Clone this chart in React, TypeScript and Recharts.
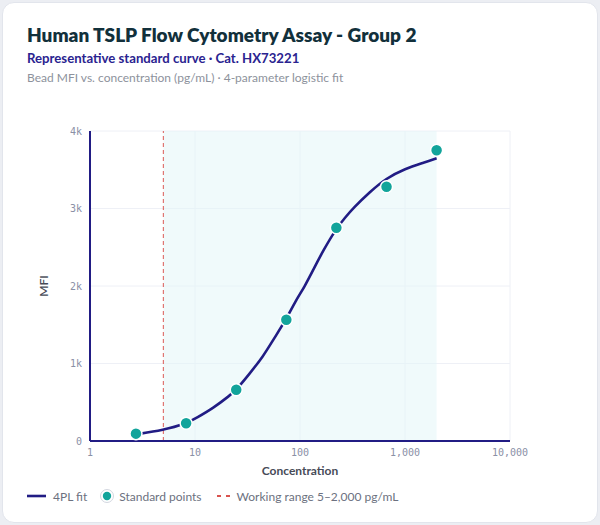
import React from 'react';
import {
  ComposedChart,
  Line,
  Scatter,
  XAxis,
  YAxis,
  CartesianGrid,
  ReferenceArea,
  ReferenceLine,
} from 'recharts';

// Standard points (3-fold dilutions)
const standardConc = [2.74, 8.23, 24.7, 74.1, 222, 667, 2000];
const standardMfi = [95, 228, 661, 1565, 2752, 3280, 3752];

// 4PL fit curve
const fitConc = [2.74, 5, 8.2, 10.4, 14.9, 21.5, 24.7, 33, 44.7, 55.7, 73.3, 90, 111, 135, 165, 220, 268, 322, 464, 659, 1000, 1540, 2000];
const fitMfi = [86, 141, 222, 301, 425, 588, 660, 866, 1093, 1308, 1561, 1800, 1994, 2220, 2450, 2735, 2880, 3006, 3215, 3388, 3515, 3595, 3648];

const xTicks = [1, 10, 100, 1000, 10000];
const yTicks = [0, 1000, 2000, 3000, 4000];
const workingRange = [5, 2000];

const standardData = standardConc.map((x, i) => ({ x, mfi: standardMfi[i] }));
const fitData = fitConc.map((x, i) => ({ x, fit: fitMfi[i] }));

const NAVY = '#211c84';
const TEAL = '#12a49b';
const RED = '#d9534f';
const TICK = '#8a90a6';

const TealDot = (props: any) => {
  const { cx, cy } = props;
  if (cx == null || cy == null) return null;
  return <circle cx={cx} cy={cy} r={6} fill={TEAL} stroke="#ffffff" strokeWidth={1.5} />;
};

export default function App() {
  return (
    <div
      style={{
        position: 'absolute',
        left: 0,
        top: 0,
        width: 600,
        height: 525,
        background: '#eceef3',
        fontFamily: 'Lato, "Noto Sans", sans-serif',
      }}
    >
      <div
        style={{
          position: 'absolute',
          left: 2,
          top: 2,
          width: 594,
          height: 519,
          background: '#ffffff',
          borderRadius: 12,
          border: '1px solid #e2e5ec',
        }}
      />
      <div
        style={{
          position: 'absolute',
          left: 27,
          top: 25,
          fontSize: 19,
          lineHeight: '19px',
          fontWeight: 800,
          color: '#12303b',
          whiteSpace: 'nowrap',
        }}
      >
        Human TSLP Flow Cytometry Assay - Group 2
      </div>
      <div
        style={{
          position: 'absolute',
          left: 27,
          top: 52,
          fontSize: 13.2,
          lineHeight: '13px',
          fontWeight: 700,
          color: '#2a2390',
          whiteSpace: 'nowrap',
        }}
      >
        Representative standard curve · Cat. HX73221
      </div>
      <div
        style={{
          position: 'absolute',
          left: 27,
          top: 72,
          fontSize: 12,
          lineHeight: '12px',
          color: '#8d929c',
          whiteSpace: 'nowrap',
        }}
      >
        Bead MFI vs. concentration (pg/mL) · 4-parameter logistic fit
      </div>

      <div style={{ position: 'absolute', left: 0, top: 110 }}>
        <ComposedChart width={600} height={370} margin={{ top: 21, right: 90, bottom: 3, left: 30 }}>
          <CartesianGrid stroke="#eef0f6" strokeWidth={1} />
          <ReferenceArea
            x1={workingRange[0]}
            x2={workingRange[1]}
            fill="#e3f5f7"
            fillOpacity={0.55}
            stroke="none"
            ifOverflow="visible"
          />
          <ReferenceLine x={workingRange[0]} stroke={RED} strokeDasharray="4 3" strokeWidth={1.2} strokeOpacity={0.8} />
          <XAxis
            dataKey="x"
            type="number"
            scale="log"
            domain={[1, 10000]}
            ticks={xTicks}
            allowDataOverflow
            height={36}
            axisLine={{ stroke: NAVY, strokeWidth: 2 }}
            tickLine={false}
            tick={{ fill: TICK, fontSize: 10, fontFamily: '"DejaVu Sans Mono", monospace' }}
            tickFormatter={(v: number) => v.toLocaleString('en-US')}
            label={{
              value: 'Concentration',
              position: 'insideBottom',
              offset: 2,
              fill: '#474b57',
              fontSize: 12,
              fontWeight: 700,
              fontFamily: 'Lato, "Noto Sans", sans-serif',
            }}
          />
          <YAxis
            type="number"
            domain={[0, 4000]}
            ticks={yTicks}
            width={60}
            axisLine={{ stroke: NAVY, strokeWidth: 2 }}
            tickLine={false}
            tick={{ fill: TICK, fontSize: 10, fontFamily: '"DejaVu Sans Mono", monospace' }}
            tickFormatter={(v: number) => (v === 0 ? '0' : `${v / 1000}k`)}
            label={{
              content: (p: any) => {
                const vb = p.viewBox || { x: 30, y: 21, width: 60, height: 310 };
                const cx = vb.x + 13;
                const cy = vb.y + vb.height / 2;
                return (
                  <text
                    x={cx}
                    y={cy}
                    transform={`rotate(-90 ${cx} ${cy})`}
                    textAnchor="middle"
                    dominantBaseline="central"
                    fill="#474b57"
                    fontSize={12}
                    fontWeight={600}
                    fontFamily='Lato, "Noto Sans", sans-serif'
                  >
                    MFI
                  </text>
                );
              },
            }}
          />
          <Line
            data={fitData}
            dataKey="fit"
            type="basis"
            stroke={NAVY}
            strokeWidth={2.6}
            dot={false}
            activeDot={false}
            isAnimationActive={false}
          />
          <Scatter
            data={standardData}
            dataKey="mfi"
            fill={TEAL}
            shape={TealDot}
            isAnimationActive={false}
          />
        </ComposedChart>
      </div>

      <div
        style={{
          position: 'absolute',
          left: 27,
          top: 488,
          height: 16,
          display: 'flex',
          alignItems: 'center',
          fontSize: 12,
          color: '#6c7180',
          whiteSpace: 'nowrap',
        }}
      >
        <svg width={20} height={16} style={{ marginRight: 6 }}>
          <line x1={0} y1={8} x2={19} y2={8} stroke={NAVY} strokeWidth={2.6} />
        </svg>
        <span style={{ marginRight: 12 }}>4PL fit</span>
        <svg width={16} height={16} style={{ marginRight: 4 }}>
          <circle cx={8} cy={8} r={6.5} fill="#ffffff" stroke="#d3d7e0" strokeWidth={1} />
          <circle cx={8} cy={8} r={4.2} fill={TEAL} />
        </svg>
        <span style={{ marginRight: 15 }}>Standard points</span>
        <svg width={13} height={16} style={{ marginRight: 7 }}>
          <line x1={0} y1={8} x2={13} y2={8} stroke={RED} strokeWidth={2} strokeDasharray="4 5" />
        </svg>
        <span>Working range 5–2,000 pg/mL</span>
      </div>
    </div>
  );
}
